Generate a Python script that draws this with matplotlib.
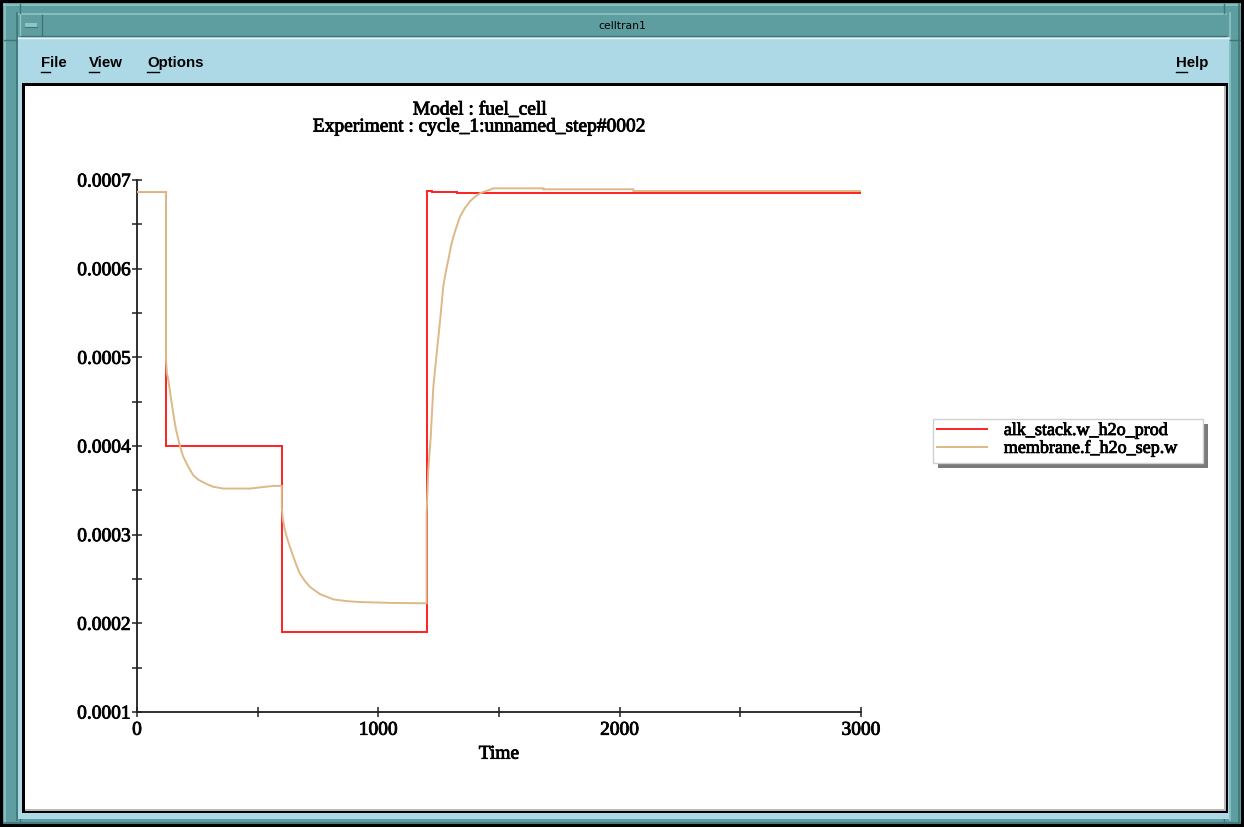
import matplotlib
matplotlib.use("Agg")
import matplotlib.pyplot as plt
from matplotlib.patches import Rectangle
from matplotlib.lines import Line2D
import matplotlib.ticker as mticker
import matplotlib.patheffects as pe

# ---- data -------------------------------------------------------------
series_names = ["alk_stack.w_h2o_prod", "membrane.f_h2o_sep.w"]

prod_time = [0, 120, 120, 600, 600, 1200, 1200, 1222, 1222, 1325, 1325, 3000]
prod_value = [0.0006865, 0.0006865, 0.0004, 0.0004, 0.00019, 0.00019,
              0.000688, 0.000688, 0.000687, 0.000687, 0.000685, 0.000685]

sep_time = [0, 120, 120, 124, 130, 137, 144, 153, 162, 170, 178, 190, 206,
            220, 233, 254, 289, 316, 358, 468, 565, 600,
            600, 604, 613, 623, 634, 648, 660, 675, 695, 717, 758, 814, 870,
            924, 1062, 1200,
            1200, 1207, 1217, 1228, 1242, 1256, 1269, 1280, 1290, 1300, 1311,
            1325, 1339, 1360, 1380, 1400, 1421, 1440, 1463, 1476, 1684, 1684,
            2057, 2057, 3000]
sep_value = [0.0006865, 0.0006865, 0.000498, 0.000482, 0.000474, 0.000461,
             0.000448, 0.000432, 0.000418, 0.000409, 0.0004, 0.000389,
             0.00038, 0.000373, 0.000367, 0.000362, 0.000357, 0.000354,
             0.000352, 0.000352, 0.000355, 0.000355,
             0.000331, 0.000318, 0.000305, 0.000295, 0.000286, 0.000275,
             0.000266, 0.000256, 0.000248, 0.000241, 0.000233, 0.000227,
             0.000225, 0.000224, 0.000223, 0.0002226,
             0.000324, 0.000373, 0.00041, 0.000467, 0.000505, 0.000542,
             0.00058, 0.000597, 0.00061, 0.000624, 0.000636, 0.000648,
             0.000659, 0.000669, 0.000676, 0.000681, 0.000685, 0.000687,
             0.000689, 0.0006906, 0.0006906, 0.0006895, 0.0006895,
             0.0006876, 0.0006876]

x_major = [0, 1000, 2000, 3000]
x_minor = [500, 1500, 2500]
y_major = [0.0001, 0.0002, 0.0003, 0.0004, 0.0005, 0.0006, 0.0007]
y_minor = [0.00015, 0.00025, 0.00035, 0.00045, 0.00055, 0.00065]

window_title = "celltran1"
menu_items = ["File", "View", "Options"]
help_item = "Help"
title_lines = ["Model : fuel_cell", "Experiment : cycle_1:unnamed_step#0002"]
x_label = "Time"

# ---- figure -----------------------------------------------------------
W, H = 1244, 827
fig = plt.figure(figsize=(W / 100, H / 100), dpi=100)
fig.patch.set_facecolor("black")

TEAL = "#5f9ea0"
TEAL_LIGHT = "#8fc4c6"
TEAL_DARK = "#3f7476"
MENU_BLUE = "#add8e6"
SERIF = "Liberation Serif"
SERIF_SIZE = 14.0
LEGEND_SIZE = 13.0
heavy = [pe.withStroke(linewidth=0.6, foreground="black")]


def box(x0, y0, x1, y1, color, z=0, **kw):
    """Rectangle given in pixel coordinates measured from the top left."""
    r = Rectangle((x0 / W, 1 - y1 / H), (x1 - x0) / W, (y1 - y0) / H,
                  transform=fig.transFigure, facecolor=color,
                  edgecolor="none", zorder=z, **kw)
    fig.patches.append(r)
    return r


def hline(x0, x1, y, color, lw=1.0, z=1):
    fig.lines.append(Line2D([x0 / W, x1 / W], [1 - y / H, 1 - y / H],
                            transform=fig.transFigure, color=color, lw=lw,
                            zorder=z))


def vline(x, y0, y1, color, lw=1.0, z=1):
    fig.lines.append(Line2D([x / W, x / W], [1 - y0 / H, 1 - y1 / H],
                            transform=fig.transFigure, color=color, lw=lw,
                            zorder=z))


# window frame
box(3, 3, 1241, 824, TEAL)
hline(4, 1240, 5, TEAL_LIGHT, 1.2)
vline(5, 4, 823, TEAL_LIGHT, 1.2)
hline(4, 1240, 822.5, TEAL_DARK, 1.2)
vline(1239, 4, 823, TEAL_DARK, 1.2)
# inner frame lines
hline(18, 1226, 13.5, TEAL_LIGHT, 1.2)
vline(17, 13, 820, TEAL_DARK, 1.2)
vline(1230, 13, 820, TEAL_LIGHT, 1.2)
# corner separators
vline(20, 4, 13, TEAL_DARK, 1.0)
vline(1224, 4, 13, TEAL_DARK, 1.0)
hline(4, 17, 40, TEAL_DARK, 1.0)
hline(1230, 1240, 40, TEAL_DARK, 1.0)
vline(20, 814, 823, TEAL_DARK, 1.0)
vline(1224, 814, 823, TEAL_DARK, 1.0)

# title bar
box(20, 15, 1226, 35, TEAL, z=1)
hline(20, 1226, 35.5, TEAL_DARK, 1.0, z=2)
box(20, 15, 42, 35, TEAL, z=2)
vline(42, 15, 35, TEAL_DARK, 1.0, z=3)
vline(20.5, 15, 35, TEAL_LIGHT, 1.0, z=3)
box(25, 23, 37, 27, TEAL_LIGHT, z=3)
hline(25, 37, 27, TEAL_DARK, 0.8, z=4)
fig.text(622 / W, 1 - 26 / H, window_title, ha="center", va="center",
         fontsize=7.8, family="DejaVu Sans", color="black", zorder=5)

# main window background (menu bar and margins)
box(18, 37, 1229, 819, MENU_BLUE, z=1)
hline(18, 1229, 37.5, "#e6f4f8", 1.0, z=2)

# drawing area with sunken border
box(22, 83, 1228, 813, "black", z=2)
box(25, 86, 1226, 811, "#b8b8b8", z=3)
box(25, 86, 1224, 809, "white", z=4)

# menu entries with mnemonic underlines
renderer = fig.canvas.get_renderer()
menu_font = dict(fontsize=10.8, family="Liberation Sans", weight="bold",
                 color="black", va="center", ha="left", zorder=6)
menu_pos = [41, 89, 147]
for label, x in zip(menu_items + [help_item], menu_pos + [1176]):
    fig.text(x / W, 1 - 63 / H, label, **menu_font)
    probe = fig.text(x / W, 1 - 63 / H, label[0], **menu_font)
    bb = probe.get_window_extent(renderer)
    probe.remove()
    fig.lines.append(Line2D([bb.x0 / W, bb.x1 / W], [1 - 72 / H, 1 - 72 / H],
                            transform=fig.transFigure, color="black",
                            lw=1.0, zorder=6))

# ---- plot -------------------------------------------------------------
ax = fig.add_axes([137 / W, 1 - 712 / H, 724 / W, 532 / H])
ax.set_zorder(10)
ax.patch.set_visible(False)

line_prod, = ax.plot(prod_time, prod_value, color="#ff2020", lw=1.4,
                     zorder=3, solid_joinstyle="miter")
line_sep, = ax.plot(sep_time, sep_value, color="#deb887", lw=1.4,
                    zorder=4, solid_joinstyle="miter")

ax.set_xlim(0, 3000)
ax.set_ylim(0.0001, 0.0007)
for side in ("top", "right"):
    ax.spines[side].set_visible(False)
for side in ("left", "bottom"):
    ax.spines[side].set_linewidth(1.3)
    ax.spines[side].set_color("#202020")

ax.xaxis.set_major_locator(mticker.FixedLocator(x_major))
ax.xaxis.set_minor_locator(mticker.FixedLocator(x_minor))
ax.yaxis.set_major_locator(mticker.FixedLocator(y_major))
ax.yaxis.set_minor_locator(mticker.FixedLocator(y_minor))
ax.yaxis.set_major_formatter(mticker.FormatStrFormatter("%.4f"))
ax.xaxis.set_major_formatter(mticker.FormatStrFormatter("%d"))

ax.tick_params(axis="both", which="both", direction="inout", length=7,
               width=1.1, color="#202020")
ax.tick_params(axis="y", which="major", pad=1)
ax.tick_params(axis="x", which="major", pad=3.5)
for lab in ax.get_xticklabels() + ax.get_yticklabels():
    lab.set_family(SERIF)
    lab.set_fontsize(SERIF_SIZE)
    lab.set_path_effects(heavy)

xl = ax.set_xlabel(x_label, family=SERIF, fontsize=SERIF_SIZE, labelpad=5)
xl.set_path_effects(heavy)

for text, y in zip(title_lines, (110, 127)):
    fig.text(480 / W, 1 - y / H, text, ha="center", va="center",
             family=SERIF, fontsize=SERIF_SIZE, zorder=6, path_effects=heavy)

# ---- legend -----------------------------------------------------------
box(938, 424, 1208, 468, "#7a7a7a", z=5)
box(933, 419, 1203, 463, "white", z=6)
frame = box(933, 419, 1203, 463, "none", z=7)
frame.set_edgecolor("#d0d0d0")
frame.set_linewidth(1.0)

leg = ax.legend([line_prod, line_sep], series_names, loc="upper left",
                bbox_to_anchor=(937 / W, 1 - 422 / H),
                bbox_transform=fig.transFigure, frameon=False,
                borderaxespad=0, borderpad=0, handlelength=2.75,
                handletextpad=0.95, labelspacing=0.0,
                prop={"family": SERIF, "size": LEGEND_SIZE})
for t in leg.get_texts():
    t.set_path_effects(heavy)
leg.set_zorder(20)

fig.savefig("out.png", dpi=100, facecolor=fig.get_facecolor())
